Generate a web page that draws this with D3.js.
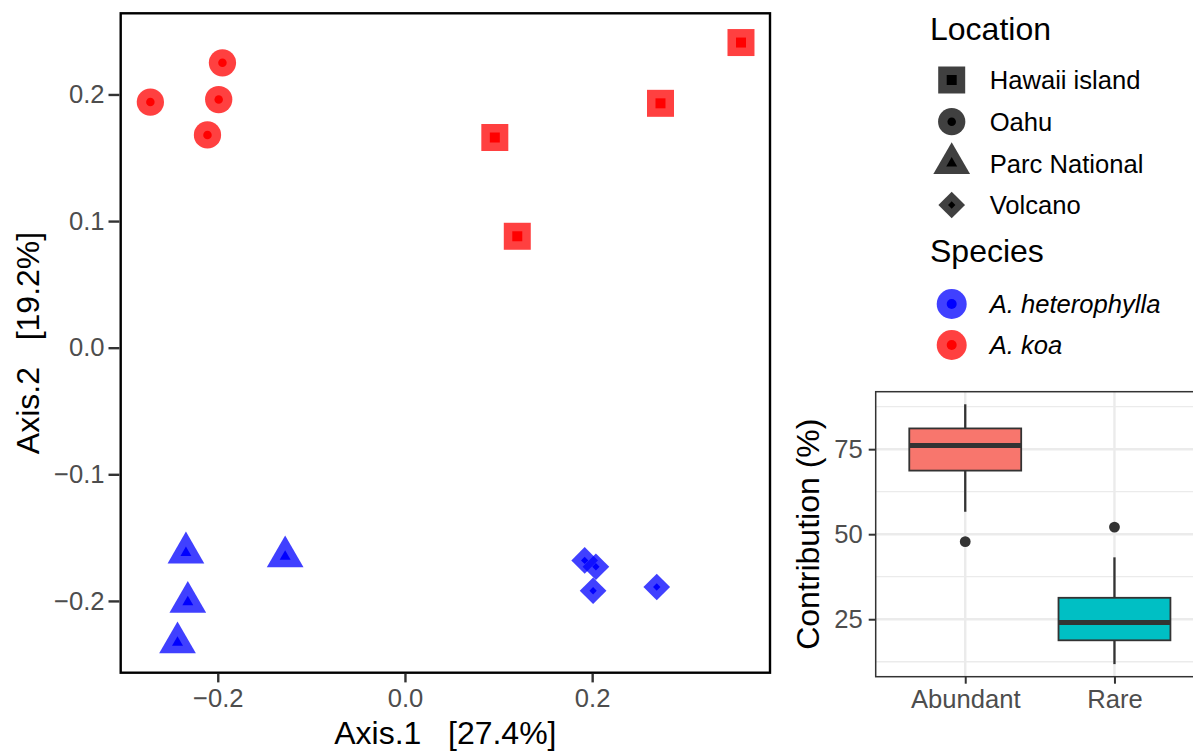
<!DOCTYPE html>
<html>
<head>
<meta charset="utf-8">
<script src="https://cdn.jsdelivr.net/npm/d3@7"></script>
<style>
  body { margin: 0; background: #fff; }
  svg { font-family: "Liberation Sans", Arial, Helvetica, sans-serif; display: block; }
</style>
</head>
<body>
<script>
// ordination scores, one entry per sample
const sampleLocation = [
  "Oahu", "Oahu", "Oahu", "Oahu",
  "Hawaii island", "Hawaii island", "Hawaii island", "Hawaii island",
  "Parc National", "Parc National", "Parc National", "Parc National",
  "Volcano", "Volcano", "Volcano", "Volcano"
];
const sampleSpecies = [
  "A. koa", "A. koa", "A. koa", "A. koa",
  "A. koa", "A. koa", "A. koa", "A. koa",
  "A. heterophylla", "A. heterophylla", "A. heterophylla", "A. heterophylla",
  "A. heterophylla", "A. heterophylla", "A. heterophylla", "A. heterophylla"
];
const axis1 = [-0.272, -0.195, -0.199, -0.211, 0.359, 0.273, 0.096, 0.120, -0.234, -0.128, -0.232, -0.243, 0.192, 0.204, 0.201, 0.269];
const axis2 = [0.194, 0.225, 0.196, 0.168, 0.241, 0.193, 0.166, 0.088, -0.162, -0.165, -0.201, -0.233, -0.168, -0.173, -0.192, -0.189];

const locations = ["Hawaii island", "Oahu", "Parc National", "Volcano"];
const species = ["A. heterophylla", "A. koa"];
const xTicks = [-0.2, 0, 0.2];
const yTicks = [-0.2, -0.1, 0, 0.1, 0.2];

// boxplot of contribution
const boxGroups = ["Abundant", "Rare"];
const boxLower = [56.6, 11.8];
const boxQ1 = [68.7, 18.8];
const boxMedian = [76.1, 24.0];
const boxQ3 = [81.1, 31.3];
const boxUpper = [88.2, 43.2];
const boxOutliers = [[47.8], [52.1]];
const boxTicks = [25, 50, 75];
const boxMinorTicks = [12.5, 37.5, 62.5, 87.5];

const W = 1193, H = 752;
const svg = d3.select("body").append("svg").attr("width", W).attr("height", H);

const speciesColor = d3.scaleOrdinal().domain(species).range(["#0000ff", "#ff0000"]);
const shapeOf = {
  "Hawaii island": { type: d3.symbolSquare, outer: 729, inner: 100, rot: 0 },
  "Oahu": { type: d3.symbolCircle, outer: 585, inner: 57, rot: 0 },
  "Parc National": { type: d3.symbolTriangle, outer: 584, inner: 52, rot: 0 },
  "Volcano": { type: d3.symbolSquare, outer: 356, inner: 27, rot: 45 }
};
const fmt = (d) => (d === 0 ? "0.0" : d3.format(".1f")(d));

// ---------- main ordination panel ----------
const panel = { left: 120.7, right: 770, top: 13.3, bottom: 672.7 };
const x = d3.scaleLinear().domain([-0.3037, 0.39]).range([panel.left, panel.right]);
const y = d3.scaleLinear().domain([-0.2567, 0.2641]).range([panel.bottom, panel.top]);

const samples = axis1.map((v, i) => ({ x: v, y: axis2[i], loc: sampleLocation[i], sp: sampleSpecies[i] }));

const pts = svg.append("g");
pts.selectAll(".outer")
  .data(samples)
  .enter()
  .append("path")
  .attr("d", (d) => d3.symbol(shapeOf[d.loc].type, shapeOf[d.loc].outer)())
  .attr("transform", (d) => `translate(${x(d.x)},${y(d.y)}) rotate(${shapeOf[d.loc].rot})`)
  .attr("fill", (d) => speciesColor(d.sp))
  .attr("fill-opacity", 0.75);
pts.selectAll(".inner")
  .data(samples)
  .enter()
  .append("path")
  .attr("d", (d) => d3.symbol(shapeOf[d.loc].type, shapeOf[d.loc].inner)())
  .attr("transform", (d) => `translate(${x(d.x)},${y(d.y)}) rotate(${shapeOf[d.loc].rot})`)
  .attr("fill", (d) => speciesColor(d.sp));

svg.append("rect")
  .attr("x", panel.left).attr("y", panel.top)
  .attr("width", panel.right - panel.left).attr("height", panel.bottom - panel.top)
  .attr("fill", "none").attr("stroke", "#000").attr("stroke-width", 2.4);

const xAxis = svg.append("g")
  .attr("transform", `translate(0,${panel.bottom + 1.2})`)
  .call(d3.axisBottom(x).tickValues(xTicks).tickFormat(fmt).tickSize(8.5).tickPadding(6));
const yAxis = svg.append("g")
  .attr("transform", `translate(${panel.left - 1.2},0)`)
  .call(d3.axisLeft(y).tickValues(yTicks).tickFormat(fmt).tickSize(11).tickPadding(4));
[xAxis, yAxis].forEach((g) => {
  g.select(".domain").remove();
  g.selectAll(".tick line").attr("stroke", "#333").attr("stroke-width", 2.4);
  g.selectAll(".tick text").attr("fill", "#4d4d4d").style("font-size", "25.6px");
});

svg.append("text")
  .attr("x", (panel.left + panel.right) / 2).attr("y", 744)
  .attr("text-anchor", "middle").style("font-size", "32px").style("white-space", "pre")
  .text("Axis.1   [27.4%]");
svg.append("text")
  .attr("transform", `translate(39,${(panel.top + panel.bottom) / 2}) rotate(-90)`)
  .attr("text-anchor", "middle").style("font-size", "32px").style("white-space", "pre")
  .text("Axis.2   [19.2%]");

// ---------- legend ----------
const legend = svg.append("g");
legend.append("text").attr("x", 930).attr("y", 40).style("font-size", "32px").text("Location");
const locRowY = d3.scalePoint().domain(locations).range([80, 205]);
const locRows = legend.selectAll(".loc").data(locations).enter().append("g")
  .attr("transform", (d) => `translate(951.7,${locRowY(d)})`);
locRows.append("path")
  .attr("d", (d) => d3.symbol(shapeOf[d].type, shapeOf[d].outer)())
  .attr("transform", (d) => `rotate(${shapeOf[d].rot})`)
  .attr("fill", "#000").attr("fill-opacity", 0.75);
locRows.append("path")
  .attr("d", (d) => d3.symbol(shapeOf[d].type, shapeOf[d].inner)())
  .attr("transform", (d) => `rotate(${shapeOf[d].rot})`)
  .attr("fill", "#000");
locRows.append("text").attr("x", 38).attr("dy", "0.36em").style("font-size", "25.6px").text((d) => d);

legend.append("text").attr("x", 930).attr("y", 262).style("font-size", "32px").text("Species");
const spRowY = d3.scalePoint().domain(species).range([304, 345]);
const spRows = legend.selectAll(".sp").data(species).enter().append("g")
  .attr("transform", (d) => `translate(951.7,${spRowY(d)})`);
spRows.append("circle").attr("r", 15).attr("fill", (d) => speciesColor(d)).attr("fill-opacity", 0.75);
spRows.append("circle").attr("r", 5).attr("fill", (d) => speciesColor(d));
spRows.append("text").attr("x", 38).attr("dy", "0.36em")
  .style("font-size", "25.6px").style("font-style", "italic").text((d) => d);

// ---------- boxplot panel ----------
const bp = { left: 875.7, right: 1204, top: 391.7, bottom: 676.7 };
const bx = d3.scalePoint().domain(boxGroups).range([bp.left, bp.right]).padding(0.6);
const by = d3.scaleLinear().domain([8.1, 91.9]).range([bp.bottom, bp.top]);
const boxW = bx.step() * 0.75;
const boxFill = d3.scaleOrdinal().domain(boxGroups).range(["#f8766d", "#00bfc4"]);

const grid = svg.append("g");
grid.selectAll(".minor").data(boxMinorTicks).enter().append("line")
  .attr("x1", bp.left).attr("x2", bp.right).attr("y1", (d) => by(d)).attr("y2", (d) => by(d))
  .attr("stroke", "#ebebeb").attr("stroke-width", 1.3);
grid.selectAll(".major").data(boxTicks).enter().append("line")
  .attr("x1", bp.left).attr("x2", bp.right).attr("y1", (d) => by(d)).attr("y2", (d) => by(d))
  .attr("stroke", "#ebebeb").attr("stroke-width", 2.4);
grid.selectAll(".vmajor").data(boxGroups).enter().append("line")
  .attr("x1", (d) => bx(d)).attr("x2", (d) => bx(d)).attr("y1", bp.top).attr("y2", bp.bottom)
  .attr("stroke", "#ebebeb").attr("stroke-width", 2.4);

const boxes = svg.append("g").selectAll(".box").data(boxGroups).enter().append("g");
boxes.append("line")
  .attr("x1", (d) => bx(d)).attr("x2", (d) => bx(d))
  .attr("y1", (d, i) => by(boxUpper[i])).attr("y2", (d, i) => by(boxQ3[i]))
  .attr("stroke", "#333").attr("stroke-width", 2.3);
boxes.append("line")
  .attr("x1", (d) => bx(d)).attr("x2", (d) => bx(d))
  .attr("y1", (d, i) => by(boxQ1[i])).attr("y2", (d, i) => by(boxLower[i]))
  .attr("stroke", "#333").attr("stroke-width", 2.3);
boxes.append("rect")
  .attr("x", (d) => bx(d) - boxW / 2).attr("width", boxW)
  .attr("y", (d, i) => by(boxQ3[i])).attr("height", (d, i) => by(boxQ1[i]) - by(boxQ3[i]))
  .attr("fill", (d) => boxFill(d)).attr("stroke", "#333").attr("stroke-width", 1.8);
boxes.append("line")
  .attr("x1", (d) => bx(d) - boxW / 2).attr("x2", (d) => bx(d) + boxW / 2)
  .attr("y1", (d, i) => by(boxMedian[i])).attr("y2", (d, i) => by(boxMedian[i]))
  .attr("stroke", "#333").attr("stroke-width", 5);
boxes.each(function (d, i) {
  d3.select(this).selectAll(".out").data(boxOutliers[i]).enter().append("circle")
    .attr("cx", bx(d)).attr("cy", (v) => by(v)).attr("r", 5.4).attr("fill", "#333");
});

svg.append("rect")
  .attr("x", bp.left).attr("y", bp.top)
  .attr("width", bp.right - bp.left).attr("height", bp.bottom - bp.top)
  .attr("fill", "none").attr("stroke", "#333").attr("stroke-width", 1.5);

const bxAxis = svg.append("g")
  .attr("transform", `translate(0,${bp.bottom})`)
  .call(d3.axisBottom(bx).tickSize(7).tickPadding(6));
const byAxis = svg.append("g")
  .attr("transform", `translate(${bp.left},0)`)
  .call(d3.axisLeft(by).tickValues(boxTicks).tickSize(7).tickPadding(6));
[bxAxis, byAxis].forEach((g) => {
  g.select(".domain").remove();
  g.selectAll(".tick line").attr("stroke", "#333").attr("stroke-width", 2);
  g.selectAll(".tick text").attr("fill", "#4d4d4d").style("font-size", "25.6px");
});

svg.append("text")
  .attr("transform", `translate(819,${(bp.top + bp.bottom) / 2}) rotate(-90)`)
  .attr("text-anchor", "middle").style("font-size", "32px")
  .text("Contribution (%)");
</script>
</body>
</html>
